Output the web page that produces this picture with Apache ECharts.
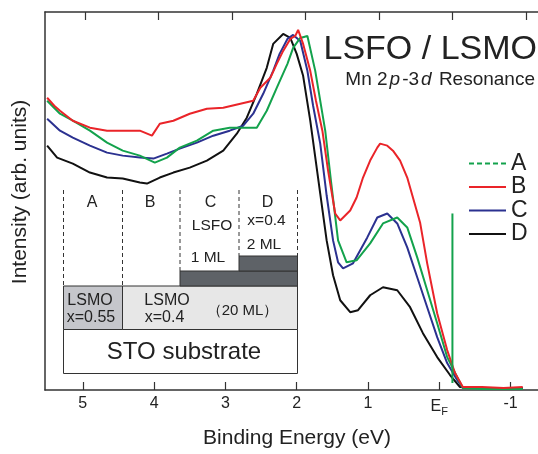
<!DOCTYPE html>
<html><head><meta charset="utf-8">
<script src="https://cdn.jsdelivr.net/npm/echarts@6/dist/echarts.min.js"></script>
<style>html,body{margin:0;padding:0;background:#fff}#c{width:538px;height:454px}</style>
</head><body><div id="c"></div>
<script>
// Binding energy ticks (eV); 0 is labelled E_F
const xTicks = [-1, 0, 1, 2, 3, 4, 5];
const legendNames = ['A', 'B', 'C', 'D'];
// [binding energy (eV), intensity (arb. units)]
const seriesA = [[5.50,290],[5.32,277],[5.14,270],[4.90,260],[4.66,248],[4.44,240],[4.20,235],[3.99,228],[3.82,233],[3.64,243],[3.40,250],[3.17,260],[2.94,263],[2.75,263],[2.56,263],[2.42,280],[2.28,303],[2.13,327],[2.05,343],[1.95,353],[1.85,355],[1.74,320],[1.60,260],[1.52,210],[1.42,150],[1.30,128],[1.16,130],[0.97,147],[0.79,167],[0.59,173],[0.45,163],[0.31,133],[0.17,100],[0.03,67],[-0.11,33],[-0.25,13],[-0.33,2],[-0.6,1],[-0.9,1],[-1.17,1]];
const seriesB = [[5.50,293],[5.40,285],[5.32,280],[5.14,270],[4.90,263],[4.66,260],[4.44,260],[4.20,260],[4.03,255],[3.92,267],[3.73,270],[3.50,277],[3.26,282],[3.03,283],[2.79,287],[2.61,290],[2.51,303],[2.37,313],[2.28,327],[2.19,340],[2.09,352],[2.02,355],[1.98,361],[1.91,347],[1.81,320],[1.73,290],[1.64,260],[1.56,220],[1.46,177],[1.39,170],[1.25,180],[1.16,193],[1.07,213],[0.97,230],[0.87,243],[0.83,247],[0.73,245],[0.65,240],[0.55,230],[0.45,213],[0.37,193],[0.27,168],[0.17,127],[0.03,77],[-0.11,40],[-0.22,17],[-0.33,3],[-0.6,3],[-0.9,2],[-1.17,3]];
const seriesC = [[5.50,272],[5.32,260],[5.14,253],[4.90,245],[4.66,238],[4.44,235],[4.20,233],[4.01,232],[3.82,237],[3.64,242],[3.40,248],[3.17,255],[2.94,260],[2.75,265],[2.61,277],[2.47,297],[2.33,320],[2.24,337],[2.13,352],[2.05,356],[1.95,350],[1.85,320],[1.77,285],[1.67,247],[1.58,195],[1.49,150],[1.42,128],[1.35,122],[1.21,127],[1.01,153],[0.87,173],[0.73,177],[0.59,167],[0.45,143],[0.31,113],[0.17,83],[0.03,53],[-0.11,27],[-0.25,10],[-0.33,2],[-0.6,2],[-0.9,2],[-1.17,2]];
const seriesD = [[5.50,245],[5.36,233],[5.14,227],[4.90,218],[4.66,213],[4.44,212],[4.20,208],[4.10,207],[3.92,213],[3.73,218],[3.50,223],[3.26,230],[3.03,240],[2.84,257],[2.70,273],[2.56,297],[2.42,323],[2.33,347],[2.19,357],[2.09,353],[2.00,337],[1.91,315],[1.81,270],[1.67,197],[1.58,150],[1.49,115],[1.39,90],[1.25,78],[1.14,80],[0.97,95],[0.79,103],[0.59,100],[0.41,83],[0.23,57],[0.03,33],[-0.15,15],[-0.29,3],[-0.5,2],[-0.8,2],[-1.17,2]];
// vertical Fermi-level marker (top-axis energy scale)
const efMarker = [[0, 7], [0, 177]];

const FONT = '"Liberation Sans", Arial, Helvetica, sans-serif';
const COL = {A: '#13a24c', B: '#ea2429', C: '#2b3190', D: '#111111'};
const chart = echarts.init(document.getElementById('c'), null, {renderer: 'canvas'});

function txt(x, y, s, size, extra) {
  return Object.assign({type: 'text', x: x, y: y, z: 100,
    style: {text: s, fontSize: size, fontFamily: FONT, fill: '#222', align: 'center', verticalAlign: 'middle'}}, extra || {});
}
function rect(x, y, w, h, fill) {
  return {type: 'rect', z: 90, shape: {x: x, y: y, width: w, height: h}, style: {fill: fill, stroke: '#333', lineWidth: 1}};
}
function dline(x, y1, y2) {
  return {type: 'line', z: 95, shape: {x1: x, y1: y1, x2: x, y2: y2}, style: {stroke: '#333', lineWidth: 1, lineDash: [4, 3]}};
}

const mkLine = (name, data) => ({
  name: name, type: 'line', data: data, symbol: 'none', showSymbol: false,
  lineStyle: {color: COL[name], width: 2}, itemStyle: {color: COL[name]}, animation: false
});

chart.setOption({
  animation: false,
  grid: {left: 45, right: 0, top: 12, bottom: 63, containLabel: false},
  legend: {
    orient: 'vertical', left: 463, top: 147, itemWidth: 37, itemHeight: 14, itemGap: 0.5,
    selectedMode: false,
    itemStyle: {opacity: 0},
    textStyle: {fontSize: 23, fontFamily: FONT, color: '#222', lineHeight: 23},
    data: [{name: 'A', lineStyle: {type: [5, 3]}}, {name: 'B'}, {name: 'C'}, {name: 'D'}]
  },
  xAxis: [{
    type: 'value', inverse: true, min: -1.384, max: 5.530, position: 'bottom',
    name: 'Binding Energy (eV)', nameLocation: 'middle', nameGap: 38,
    nameTextStyle: {fontSize: 21, fontFamily: FONT, color: '#222', padding: [0, 0, 0, 11]},
    axisLine: {onZero: false, lineStyle: {color: '#333', width: 1.5}},
    axisTick: {inside: true, length: 8, customValues: xTicks, lineStyle: {color: '#333', width: 1.2}},
    axisLabel: {
      customValues: xTicks, fontSize: 16, fontFamily: FONT, color: '#222', margin: 6,
      formatter: v => v === 0 ? '{e|E}{f|F}' : String(v),
      rich: {e: {fontSize: 16, fontFamily: FONT, color: '#222'},
             f: {fontSize: 11, fontFamily: FONT, color: '#222', padding: [10, 0, 0, 0]}}
    },
    splitLine: {show: false}
  }, {
    type: 'value', inverse: true, min: -1.165, max: 5.547, position: 'top',
    axisLine: {onZero: false, lineStyle: {color: '#333', width: 1.5}},
    axisTick: {inside: true, length: 8, customValues: xTicks, lineStyle: {color: '#333', width: 1.2}},
    axisLabel: {show: false}, splitLine: {show: false}
  }],
  yAxis: {
    type: 'value', min: 0, max: 379,
    name: 'Intensity (arb. units)', nameLocation: 'middle', nameGap: 14,
    nameTextStyle: {fontSize: 21, fontFamily: FONT, color: '#222', padding: [0, 0, 0, 18]},
    axisLine: {show: true, onZero: false, lineStyle: {color: '#333', width: 1.5}},
    axisTick: {show: false}, axisLabel: {show: false}, splitLine: {show: false}
  },
  series: [
    mkLine('D', seriesD), mkLine('C', seriesC), mkLine('A', seriesA), mkLine('B', seriesB),
    {type: 'line', xAxisIndex: 1, data: efMarker, symbol: 'none', lineStyle: {color: COL.A, width: 2}, silent: true}
  ],
  graphic: [
    txt(537, 50, 'LSFO / LSMO', 34, {style: {text: 'LSFO / LSMO', fontSize: 34, fontFamily: FONT, fill: '#222', align: 'right', verticalAlign: 'middle'}}),
    {type: 'text', x: 535, y: 80, z: 100, style: {
      text: '{n|Mn 2}{i|p}{n|-3}{i|d}{n| Resonance}', align: 'right', verticalAlign: 'middle',
      rich: {n: {fontSize: 19, fontFamily: FONT, fill: '#222'}, i: {fontSize: 19, fontFamily: FONT, fontStyle: 'italic', fill: '#222', padding: [0, 2, 0, 2]}}
    }},
    rect(63.5, 329.5, 234, 44, '#ffffff'),
    rect(63.5, 286, 59, 43.5, '#c5c6cb'),
    rect(122.5, 286, 175, 43.5, '#e7e7e7'),
    rect(180, 271, 117.5, 15, '#5e6267'),
    rect(239, 256, 58.5, 15, '#5e6267'),
    dline(63.5, 190, 286), dline(122.5, 190, 286), dline(180, 190, 271), dline(239, 190, 256), dline(297.5, 190, 256),
    txt(92, 203, 'A', 16), txt(150, 203, 'B', 16), txt(210.5, 203, 'C', 16), txt(267.5, 203, 'D', 16),
    txt(212, 226, 'LSFO', 15.5), txt(208, 258, '1 ML', 15.5), txt(266.5, 221, 'x=0.4', 15.5), txt(264, 245, '2 ML', 15.5),
    txt(90, 301, 'LSMO', 16), txt(91, 318, 'x=0.55', 16), txt(167, 301, 'LSMO', 16), txt(164.5, 318, 'x=0.4', 16),
    txt(242.5, 310.5, '（20 ML）', 15), txt(184, 352, 'STO substrate', 24)
  ]
});
</script></body></html>
